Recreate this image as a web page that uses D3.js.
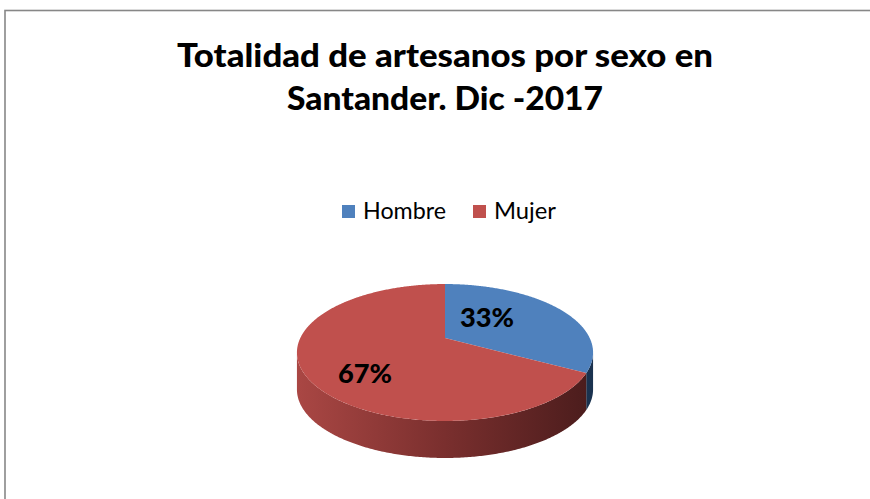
<!DOCTYPE html>
<html><head><meta charset="utf-8">
<script src="https://cdn.jsdelivr.net/npm/d3@7"></script>
<style>html,body{margin:0;padding:0;background:#fff;}svg{display:block;}</style>
</head><body>
<script>
const titleLines = ["Totalidad de artesanos por sexo en", "Santander. Dic -2017"];
const categories = ["Hombre", "Mujer"];
const values = [33, 67];
const topColors = ["#4F81BD", "#C0504D"];
const sideColors = [["#2d5282", "#1a324f"], ["#aa4744", "#7a2f2e", "#4a1c1c"]];

const W = 870, H = 499;
const svg = d3.select("body").append("svg").attr("width", W).attr("height", H);
const defs = svg.append("defs");

svg.append("rect").attr("x", 5).attr("y", 10.5).attr("width", 1000).attr("height", 1000)
  .attr("fill", "#fff").attr("stroke", "#878787").attr("stroke-width", 1.6);

// Title
const fontFam = "Lato, 'Open Sans', sans-serif";
const titleWidths = [536, 316];
titleLines.forEach((t, i) => {
  svg.append("text").attr("x", 445).attr("y", 67 + i * 43)
    .attr("text-anchor", "middle").attr("font-family", fontFam)
    .attr("font-weight", "900").attr("font-size", 33).attr("fill", "#000")
    .attr("textLength", titleWidths[i]).attr("lengthAdjust", "spacingAndGlyphs")
    .text(t);
});

// Legend
const legX = [342, 473];
const legTextW = [83, 62];
categories.forEach((c, i) => {
  svg.append("rect").attr("x", legX[i]).attr("y", 205).attr("width", 13).attr("height", 13)
    .attr("fill", topColors[i]);
  svg.append("text").attr("x", legX[i] + 21).attr("y", 219)
    .attr("font-family", fontFam).attr("font-size", 23).attr("fill", "#000")
    .attr("textLength", legTextW[i]).attr("lengthAdjust", "spacingAndGlyphs")
    .text(c);
});

// 3D pie: perspective (homography) of the top disc, side = disc shifted down
const cx = 445, cy = 338, A = 144.7, B = 65.4, k = 0.212, depth = 37;
function proj(a, r, dy) {
  const X = r * Math.sin(a), Z = r * Math.cos(a);
  const s = 1 + k * Z;
  return [cx + A * X / s, cy - B * Z / s + dy];
}
const pie = d3.pie().sort(null).startAngle(0).endAngle(2 * Math.PI)(values);
const total = d3.sum(values);

// silhouette: extreme x where cos a = -k
const visA = Math.acos(-k), visB = 2 * Math.PI - Math.acos(-k);

sideColors.forEach((cols, i) => {
  const g = defs.append("linearGradient").attr("id", "side" + i)
    .attr("gradientUnits", "userSpaceOnUse").attr("x1", 296).attr("x2", 593).attr("y1", 0).attr("y2", 0);
  cols.forEach((c, j) => g.append("stop").attr("offset", j / (cols.length - 1)).attr("stop-color", c));
});

function arcPts(a0, a1, r, dy) {
  const n = Math.max(2, Math.ceil((a1 - a0) / 0.01));
  return d3.range(n + 1).map(j => proj(a0 + (a1 - a0) * j / n, r, dy));
}
const line = d3.line();

// sides
pie.forEach((p, i) => {
  const a0 = Math.max(p.startAngle, visA), a1 = Math.min(p.endAngle, visB);
  if (a1 <= a0) return;
  const topPts = arcPts(a0, a1, 1, 0);
  const botPts = arcPts(a0, a1, 1, depth).reverse();
  svg.append("path").attr("d", line(topPts.concat(botPts)) + "Z")
    .attr("fill", "url(#side" + i + ")");
});
// top faces
pie.forEach((p, i) => {
  const pts = [proj(0, 0, 0)].concat(arcPts(p.startAngle, p.endAngle, 1, 0));
  svg.append("path").attr("d", line(pts) + "Z").attr("fill", topColors[i]);
});

// labels
const labelPos = [[487, 327], [365, 383]];
pie.forEach((p, i) => {
  svg.append("text").attr("x", labelPos[i][0]).attr("y", labelPos[i][1])
    .attr("text-anchor", "middle").attr("font-family", fontFam)
    .attr("font-weight", "900").attr("font-size", 27).attr("fill", "#000")
    .attr("textLength", 54).attr("lengthAdjust", "spacingAndGlyphs")
    .text(Math.round(p.value / total * 100) + "%");
});
</script>
</body></html>
